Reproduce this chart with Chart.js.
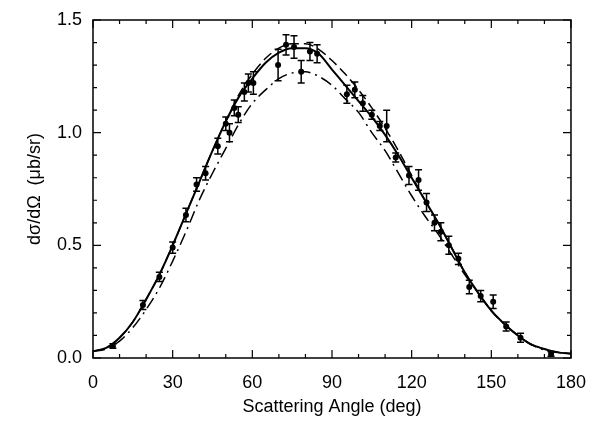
<!DOCTYPE html>
<html><head><meta charset="utf-8">
<script src="https://cdn.jsdelivr.net/npm/chart.js@4/dist/chart.umd.min.js"></script>
<style>html,body{margin:0;padding:0;background:#fff}#wrap{width:592px;height:422px}</style>
</head><body><div id="wrap"><canvas id="c" width="592" height="422"></canvas></div>
<script>
const dataAngle = [7.5, 18.8, 25, 30, 35, 39, 42.4, 47, 50, 51.4, 53.2, 54.7, 57, 58.5, 60.4, 69.7, 72.7, 75.7, 78.4, 81.7, 84.4, 95.6, 98.6, 101.6, 105, 108, 110.6, 114, 119, 122.6, 125.6, 128.6, 131, 134, 137.6, 141.7, 146, 150.7, 155.6, 161, 172.5];
const dataXsec = [0.053, 0.235, 0.36, 0.49, 0.635, 0.77, 0.82, 0.94, 1.04, 1.00, 1.11, 1.08, 1.18, 1.22, 1.22, 1.30, 1.39, 1.38, 1.27, 1.36, 1.35, 1.17, 1.19, 1.13, 1.08, 1.03, 1.03, 0.89, 0.81, 0.79, 0.69, 0.60, 0.56, 0.50, 0.44, 0.315, 0.275, 0.25, 0.14, 0.09, 0.018];
const dataErr = [0.01, 0.02, 0.02, 0.025, 0.03, 0.03, 0.03, 0.035, 0.03, 0.04, 0.035, 0.035, 0.04, 0.04, 0.05, 0.07, 0.045, 0.05, 0.05, 0.04, 0.04, 0.04, 0.035, 0.035, 0.02, 0.02, 0.07, 0.02, 0.04, 0.045, 0.04, 0.035, 0.04, 0.04, 0.025, 0.03, 0.025, 0.03, 0.02, 0.02, 0.01];

const curveAngle = [0,5,10,15,20,25,30,35,40,45,50,55,60,65,70,75,80,85,90,95,100,105,110,115,120,125,130,135,140,145,150,155,160,165,170,175,180];
const solidCurve = [0.03,0.045,0.09,0.16,0.26,0.37,0.50,0.64,0.78,0.92,1.05,1.16,1.24,1.31,1.355,1.375,1.375,1.35,1.28,1.21,1.14,1.07,0.99,0.90,0.80,0.70,0.60,0.49,0.38,0.29,0.21,0.15,0.10,0.06,0.04,0.025,0.02];
const dashedCurve = [0.03,0.045,0.09,0.16,0.26,0.37,0.50,0.64,0.78,0.92,1.05,1.17,1.26,1.33,1.375,1.395,1.395,1.37,1.32,1.26,1.19,1.11,1.02,0.92,0.81,0.70,0.60,0.49,0.38,0.29,0.21,0.15,0.10,0.06,0.04,0.025,0.02];
const dashDotCurve = [0.03,0.04,0.075,0.135,0.215,0.31,0.43,0.56,0.70,0.82,0.93,1.04,1.13,1.19,1.24,1.265,1.27,1.25,1.21,1.15,1.09,1.00,0.92,0.82,0.72,0.63,0.55,0.46,0.37,0.29,0.21,0.15,0.10,0.06,0.035,0.025,0.02];

const xTicks = [0,30,60,90,120,150,180];
const yTicks = [0.0,0.5,1.0,1.5];

const pts = dataAngle.map((x,i)=>({x, y:dataXsec[i]}));
const mk = arr => curveAngle.map((x,i)=>({x, y:arr[i]}));

const FONT = "'Liberation Sans', Arial, Helvetica, sans-serif";

const framePlugin = {
  id:'frame',
  afterDatasetsDraw(chart){
    const {ctx, chartArea:a, scales:{x,y}} = chart;
    ctx.save();
    ctx.strokeStyle='#000'; ctx.lineWidth=1.5;
    dataAngle.forEach((ang,i)=>{
      const px=x.getPixelForValue(ang);
      const p1=y.getPixelForValue(dataXsec[i]-dataErr[i]);
      const p2=y.getPixelForValue(dataXsec[i]+dataErr[i]);
      ctx.beginPath();
      ctx.moveTo(px,p1);ctx.lineTo(px,p2);
      ctx.moveTo(px-3.5,p1);ctx.lineTo(px+3.5,p1);
      ctx.moveTo(px-3.5,p2);ctx.lineTo(px+3.5,p2);
      ctx.stroke();
    });
    ctx.lineWidth=1.5;
    ctx.strokeRect(a.left,a.top,a.right-a.left,a.bottom-a.top);
    ctx.lineWidth=1.2;
    ctx.beginPath();
    for(let v=0; v<=180; v+=10){
      const px=x.getPixelForValue(v);
      const L = (v%30===0)?8:4;
      ctx.moveTo(px,a.bottom);ctx.lineTo(px,a.bottom-L);
      ctx.moveTo(px,a.top);ctx.lineTo(px,a.top+L);
    }
    for(let k=0;k<=15;k++){
      const py=y.getPixelForValue(k/10);
      const L = (k%5===0)?8:4;
      ctx.moveTo(a.left,py);ctx.lineTo(a.left+L,py);
      ctx.moveTo(a.right,py);ctx.lineTo(a.right-L,py);
    }
    ctx.stroke();
    ctx.restore();
  }
};

new Chart(document.getElementById('c'),{
  type:'scatter',
  data:{datasets:[
    {data:pts, showLine:false, pointRadius:3, pointBackgroundColor:'#000', pointBorderColor:'#000', pointBorderWidth:0},
    {data:mk(solidCurve), showLine:true, pointRadius:0, borderColor:'#000', borderWidth:2, tension:0.4, cubicInterpolationMode:'monotone'},
    {data:mk(dashedCurve), showLine:true, pointRadius:0, borderColor:'#000', borderWidth:1.5, borderDash:[10,5], tension:0.4, cubicInterpolationMode:'monotone'},
    {data:mk(dashDotCurve), showLine:true, pointRadius:0, borderColor:'#000', borderWidth:1.5, borderDash:[12,5,2,5], tension:0.4, cubicInterpolationMode:'monotone'}
  ]},
  options:{
    responsive:false, animation:false,
    layout:{padding:{top:20,right:19,left:24,bottom:0}},
    plugins:{legend:{display:false}, tooltip:{enabled:false}},
    scales:{
      x:{type:'linear', min:0, max:180,
        afterBuildTicks(s){ s.ticks = xTicks.map(v=>({value:v})); },
        afterFit(s){ s.height = 64; },
        grid:{display:false}, border:{display:false},
        ticks:{color:'#000', font:{family:FONT,size:18}, padding:6, maxRotation:0},
        title:{display:true, text:'Scattering Angle (deg)', color:'#000', font:{family:FONT,size:18}, padding:{top:0,bottom:4}}
      },
      y:{type:'linear', min:0, max:1.5,
        afterBuildTicks(s){ s.ticks = yTicks.map(v=>({value:v})); },
        afterFit(s){ s.width = 69; },
        grid:{display:false}, border:{display:false},
        ticks:{color:'#000', font:{family:FONT,size:18}, padding:3, callback:v=>Number(v).toFixed(1)},
        title:{display:true, text:'dσ/dΩ  (μb/sr)', color:'#000', font:{family:FONT,size:18}, padding:{top:0,bottom:4}}
      }
    }
  },
  plugins:[framePlugin]
});
</script></body></html>
